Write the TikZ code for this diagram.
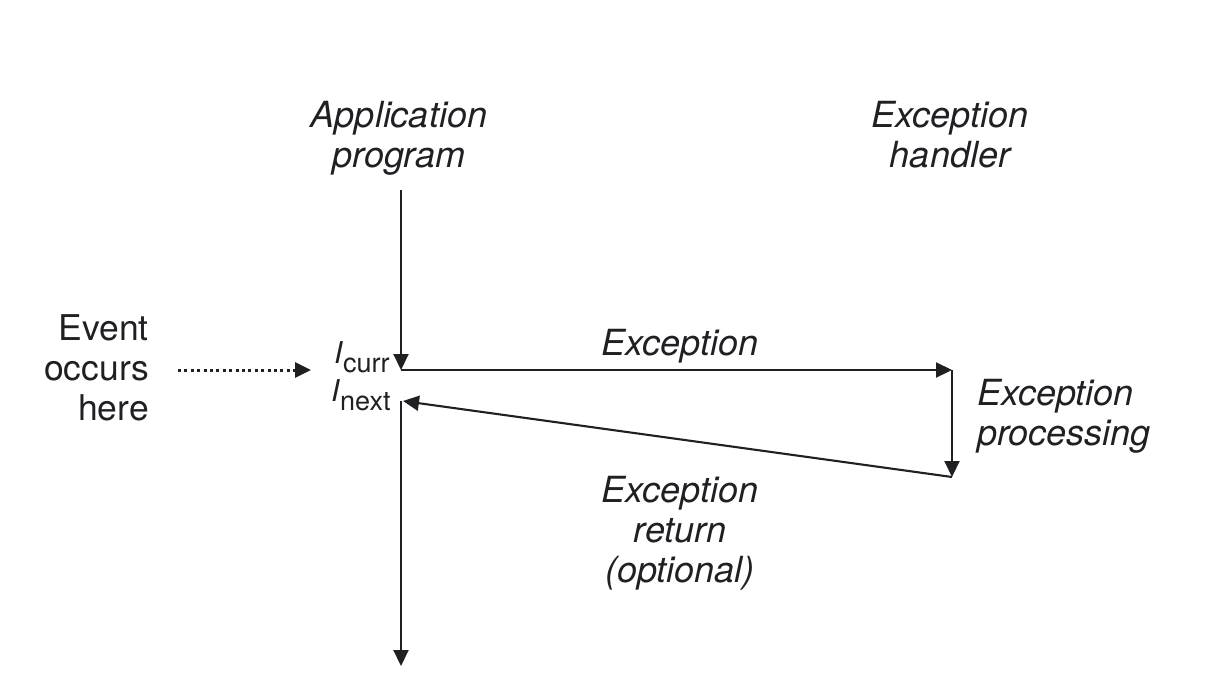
\documentclass[tikz,border=0pt]{standalone}
\usepackage{fontspec}
\setmainfont{TeX Gyre Heros}
\usetikzlibrary{arrows.meta}
\definecolor{ink}{RGB}{32,32,36}
\begin{document}
\begin{tikzpicture}[x=1pt,y=-1pt,
  lbl/.style={inner sep=0pt,text=ink,font=\fontsize{36}{40}\selectfont\itshape,align=center},
  plain/.style={inner sep=0pt,text=ink,font=\fontsize{35.5}{40}\selectfont,align=right},
  inst/.style={inner sep=0pt,text=ink,font=\fontsize{30}{34}\selectfont,anchor=base west},
  flow/.style={draw=ink,line width=2.1pt,-{Triangle[length=16pt,width=15pt]}},
  dotflow/.style={draw=ink,line width=3pt,dash pattern=on 3pt off 3.4pt,-{Triangle[length=16pt,width=15pt]}}]
\useasboundingbox (0,0) rectangle (1213,691);
% texts (base anchor = baseline of the last line)
\node[lbl,anchor=base] (app) at (399,167) {Application\\program};
\node[lbl,anchor=base] (hand) at (950,167) {Exception\\handler};
\node[plain,anchor=base east] (event) at (149,420) {Event\\occurs\\here};
\node[inst] (icurr) at (334,363) {\textit{I}\raisebox{-9pt}{\fontsize{27}{30}\selectfont curr}};
\node[inst] (inext) at (331,401) {\textit{I}\raisebox{-9pt}{\fontsize{27}{30}\selectfont next}};
\node[lbl,anchor=base] (exc) at (680,355) {Exception};
\node[lbl,anchor=base west,align=left] (proc) at (977,445) {Exception\\processing};
\node[lbl,anchor=base] (ret) at (680,582) {Exception\\return\\(optional)};
% connector points
\coordinate (apptop) at (401,190);
\coordinate (curr) at (401,370);
\coordinate (hright) at (952,370);
\coordinate (hbot) at (952,477);
\coordinate (nextpt) at (403,401);
\coordinate (nextstart) at (401,401);
\coordinate (bot) at (401,666);
\coordinate (dotstart) at (178,370);
\coordinate (dotend) at (311,370);
% connectors
\draw[flow] (apptop) -- (curr);
\draw[flow] (curr) -- (hright);
\draw[flow] (hright) -- (hbot);
\draw[flow] (hbot) -- (nextpt);
\draw[flow] (nextstart) -- (bot);
\draw[dotflow] (dotstart) -- (dotend);
\end{tikzpicture}
\end{document}
